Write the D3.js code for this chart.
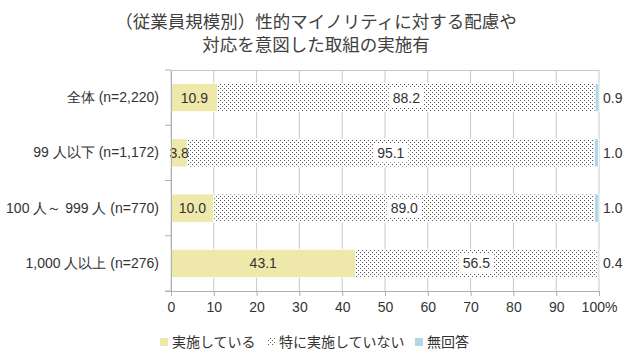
<!DOCTYPE html>
<html>
<head>
<meta charset="utf-8">
<script src="https://cdn.jsdelivr.net/npm/d3@7"></script>
<style>
  html, body { margin: 0; padding: 0; background: #fff; }
  svg { display: block; font-family: "Liberation Sans", "Noto Sans CJK JP", sans-serif; }
</style>
</head>
<body>
<svg id="chart" width="630" height="355"></svg>
<script>
const titleLines = ["（従業員規模別）性的マイノリティに対する配慮や", "対応を意図した取組の実施有"];
const categories = ["全体 (n=2,220)", "99 人以下 (n=1,172)", "100 人～ 999 人 (n=770)", "1,000 人以上 (n=276)"];
const seriesNames = ["実施している", "特に実施していない", "無回答"];
const implemented = [10.9, 3.8, 10.0, 43.1];
const notImplemented = [88.2, 95.1, 89.0, 56.5];
const noAnswer = [0.9, 1.0, 1.0, 0.4];
const xTicks = [0, 10, 20, 30, 40, 50, 60, 70, 80, 90, 100];
const xTickLabels = ["0", "10", "20", "30", "40", "50", "60", "70", "80", "90", "100%"];

(function () {
const svg = d3.select("#chart");
const textColor = "#333";
const colors = ["#EEE8AA", "url(#dots)", "#ADD8E6"];

const defs = svg.append("defs");
const pat = defs.append("pattern").attr("id", "dots").attr("patternUnits", "userSpaceOnUse")
  .attr("width", 4).attr("height", 4);
pat.append("rect").attr("width", 4).attr("height", 4).attr("fill", "#fff");
pat.append("rect").attr("x", 0).attr("y", 0).attr("width", 1).attr("height", 1).attr("fill", "#555");
pat.append("rect").attr("x", 2).attr("y", 2).attr("width", 1).attr("height", 1).attr("fill", "#555");

const pLeft = 171, pRight = 599, pTop = 70, pBottom = 291;
const x = d3.scaleLinear().domain([0, 100]).range([pLeft, pRight]);
const y = d3.scaleBand().domain(categories).range([pTop, pBottom]).paddingInner(0.49).paddingOuter(0.245);

// title
svg.append("g").selectAll("text").data(titleLines).join("text")
  .attr("x", 316).attr("y", (d, i) => 28 + i * 23)
  .attr("text-anchor", "middle")
  .attr("font-family", "'Noto Sans CJK JP', sans-serif")
  .attr("font-size", 17.5).attr("fill", "#404040")
  .text(d => d);

// grid
svg.append("g").selectAll("line").data(xTicks).join("line")
  .attr("x1", d => x(d)).attr("x2", d => x(d))
  .attr("y1", pTop).attr("y2", pBottom)
  .attr("stroke", "#c8c8c8").attr("stroke-width", 1);
svg.append("line").attr("x1", pLeft).attr("x2", pRight).attr("y1", pTop + 0.5).attr("y2", pTop + 0.5)
  .attr("stroke", "#c8c8c8");

// stacked data
const rows = categories.map((c, i) => ({ cat: c, vals: [implemented[i], notImplemented[i], noAnswer[i]] }));
const stack = d3.stack().keys([0, 1, 2]).value((d, k) => d.vals[k]);
const layers = stack(rows);

const gBars = svg.append("g");
layers.forEach((layer, k) => {
  gBars.append("g").selectAll("rect").data(layer).join("rect")
    .attr("x", d => x(d[0]))
    .attr("width", d => Math.max(0, x(d[1]) - x(d[0])))
    .attr("y", d => y(d.data.cat))
    .attr("height", y.bandwidth())
    .attr("fill", colors[k])
    .attr("stroke", "#fff").attr("stroke-width", 0.8);
});

// value labels
const fs = 14;
layers.forEach((layer, k) => {
  const g = svg.append("g");
  layer.forEach(d => {
    const v = d.data.vals[k];
    const label = v.toFixed(1);
    const cy = y(d.data.cat) + y.bandwidth() / 2;
    let cx, anchor = "middle";
    if (k === 2) { cx = x(100) + 4; anchor = "start"; }
    else cx = (x(d[0]) + x(d[1])) / 2;
    if (k === 1) {
      const w = label.length * 7.8 + 4;
      g.append("rect").attr("x", cx - w / 2).attr("y", cy - 9.5).attr("width", w).attr("height", 19).attr("fill", "#fff");
    }
    g.append("text").attr("x", cx).attr("y", cy).attr("dy", "0.36em")
      .attr("text-anchor", anchor).attr("font-size", fs).attr("fill", textColor)
      .text(label);
  });
});

// x axis
const xAxis = d3.axisBottom(x).tickValues(xTicks).tickFormat((d, i) => xTickLabels[i]).tickSize(5).tickSizeOuter(0);
const gx = svg.append("g").attr("transform", `translate(0,${pBottom})`).call(xAxis);
gx.select(".domain").remove();
gx.append("line").attr("x1", pLeft - 6).attr("x2", pRight).attr("y1", 0.5).attr("y2", 0.5).attr("stroke", "#b0b0b0");
gx.selectAll(".tick line").attr("stroke", "#b0b0b0");
gx.selectAll(".tick text").attr("font-size", fs).attr("fill", textColor).attr("font-family", "'Liberation Sans', sans-serif").attr("dy", "0.95em");

// y axis
const yAxis = d3.axisLeft(y).tickSize(0).tickPadding(12);
const gy = svg.append("g").attr("transform", `translate(${pLeft},0)`).call(yAxis);
gy.select(".domain").attr("stroke", "#b0b0b0");
gy.selectAll(".tick text").attr("font-size", fs).attr("fill", textColor);
const bounds = [pTop, ...categories.slice(1).map(c => y(c) - y.step() * y.paddingInner() / 2), pBottom];
gy.selectAll(".ytickmark").data(bounds).join("line").attr("class", "ytickmark")
  .attr("x1", -6).attr("x2", 0).attr("y1", d => d).attr("y2", d => d).attr("stroke", "#b0b0b0");

// legend
const legendX = [160, 267, 415];
const lg = svg.append("g");
seriesNames.forEach((n, i) => {
  lg.append("rect").attr("x", legendX[i]).attr("y", 338).attr("width", 8).attr("height", 8).attr("fill", colors[i]);
  lg.append("text").attr("x", legendX[i] + 12).attr("y", 342).attr("dy", "0.36em")
    .attr("font-size", fs).attr("fill", textColor).attr("font-family", "'Noto Sans CJK JP', sans-serif").text(n);
});
})();
</script>
</body>
</html>
